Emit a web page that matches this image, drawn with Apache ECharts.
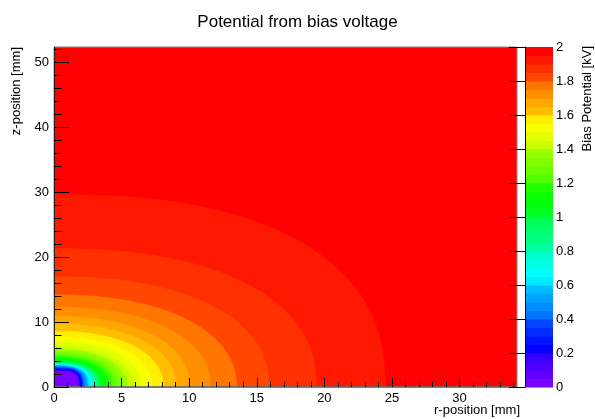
<!DOCTYPE html>
<html>
<head>
<meta charset="utf-8">
<script src="https://cdn.jsdelivr.net/npm/echarts@6/dist/echarts.min.js"></script>
<style>
html, body { margin: 0; padding: 0; background: #ffffff; }
#chart { width: 595px; height: 419px; }
</style>
</head>
<body>
<div id="chart"></div>
<script>
// Axis ranges (mm) and tick positions
const rMax = 34.25;
const zMax = 52.3;
const rTicks = [0, 5, 10, 15, 20, 25, 30];
const rMinorTicks = [0,1,2,3,4,5,6,7,8,9,10,11,12,13,14,15,16,17,18,19,20,21,22,23,24,25,26,27,28,29,30,31,32,33,34];
const zTicks = [0, 10, 20, 30, 40, 50];
const zMinorTicks = [0,2,4,6,8,10,12,14,16,18,20,22,24,26,28,30,32,34,36,38,40,42,44,46,48,50,52];
const biasTicks = [0, 0.2, 0.4, 0.6, 0.8, 1, 1.2, 1.4, 1.6, 1.8, 2];
const biasMin = 0;
const biasMax = 2;

// Equipotential boundaries (kV): extent along r at z = 0 and along z at r = 0 (mm),
// plus how square the boundary is (superellipse exponent)
const contourLevel = [1.95, 1.90, 1.85, 1.80, 1.75, 1.70, 1.65, 1.60, 1.55, 1.50,
                      1.45, 1.40, 1.35, 1.30, 1.25, 1.20, 1.15, 1.10, 1.05, 1.00,
                      0.95, 0.90, 0.85, 0.80, 0.75, 0.70, 0.65, 0.60, 0.55, 0.50,
                      0.45, 0.40, 0.35, 0.30, 0.25, 0.20, 0.15, 0.10, 0.05];
const contourR = [24.5, 19.4, 15.9, 13.5, 11.6, 10.05, 9.05, 8.1, 7.25, 6.45,
                  5.9, 5.45, 5.05, 4.75, 4.5, 4.25, 4.0, 3.78, 3.58, 3.4,
                  3.27, 3.15, 3.05, 2.96, 2.88, 2.76, 2.64, 2.52, 2.42, 2.33,
                  2.24, 2.15, 2.08, 2.02, 1.96, 1.9, 1.86, 1.82, 1.78];
const contourZ = [29.6, 21.3, 17.0, 14.2, 12.3, 10.9, 9.7, 8.6, 7.7, 6.9,
                  6.3, 5.85, 5.5, 5.2, 4.95, 4.7, 4.45, 4.25, 4.07, 3.92,
                  3.8, 3.7, 3.62, 3.55, 3.48, 3.42, 3.36, 3.3, 3.24, 3.17,
                  3.1, 3.02, 2.9, 2.78, 2.65, 2.55, 2.5, 2.45, 2.4];
const contourShape = [2.4, 2.3, 2.25, 2.2, 2.2, 2.2, 2.2, 2.2, 2.2, 2.2,
                      2.2, 2.2, 2.2, 2.2, 2.2, 2.25, 2.3, 2.35, 2.4, 2.45,
                      2.5, 2.55, 2.6, 2.65, 2.7, 2.75, 2.8, 2.85, 2.9, 3.0,
                      3.1, 3.2, 3.3, 3.4, 3.6, 3.8, 4.0, 4.2, 4.5];

const FONT = '"Liberation Sans", Arial, Helvetica, sans-serif';
const nBands = Math.round((biasMax - biasMin) / 0.05);

// 50-colour violet-to-red spectrum (HLS, lightness 0.5, saturation 1)
function spectrumColor(k) {
  const h = 280 - (k + 1) * (280 / 50);
  const hp = h / 60;
  const x = 1 - Math.abs((hp % 2) - 1);
  let r = 0, g = 0, b = 0;
  if (hp < 1) { r = 1; g = x; }
  else if (hp < 2) { r = x; g = 1; }
  else if (hp < 3) { g = 1; b = x; }
  else if (hp < 4) { g = x; b = 1; }
  else if (hp < 5) { r = x; b = 1; }
  else { r = 1; b = x; }
  const c = v => Math.round(v * 255);
  return 'rgb(' + c(r) + ',' + c(g) + ',' + c(b) + ')';
}
function bandColor(i) {
  return spectrumColor(Math.floor((i + 0.99) * 50 / nBands));
}
function bandOfUpper(level) {
  return Math.round((level - biasMin) / 0.05) - 1;
}

const contourData = contourLevel.map((v, i) => [v, contourR[i], contourZ[i], contourShape[i]]);
const bandEdges = [biasMin].concat(contourLevel.slice().reverse(), [biasMax]);
const colorbarData = bandEdges.slice(0, -1).map((v, i) => [v, bandEdges[i + 1]]);

const chart = echarts.init(document.getElementById('chart'), null, { renderer: 'canvas' });

const tickLabelStyle = { color: '#000', fontSize: 13, fontFamily: FONT };

chart.setOption({
  animation: false,
  backgroundColor: '#ffffff',
  title: {
    text: 'Potential from bias voltage',
    left: 'center',
    top: 9,
    textStyle: { color: '#000', fontSize: 17, fontWeight: 'normal', fontFamily: FONT }
  },
  grid: [
    { left: 54, top: 47, width: 463, height: 340, show: true, borderColor: '#8a8a8a', borderWidth: 1, backgroundColor: 'transparent', z: 3 },
    { left: 525, top: 47, width: 28, height: 340, show: false }
  ],
  xAxis: [
    {
      gridIndex: 0, type: 'value', position: 'bottom', min: 0, max: rMax, interval: 5,
      axisLine: { show: true, lineStyle: { color: '#666', width: 1.5 } },
      axisTick: { show: true, inside: true, length: 9, customValues: rTicks, lineStyle: { color: '#000' } },
      axisLabel: { show: true, margin: 5, customValues: rTicks, ...tickLabelStyle },
      splitLine: { show: false }, z: 5
    },
    {
      gridIndex: 0, type: 'value', position: 'bottom', min: 0, max: rMax, interval: 1,
      axisLine: { show: false },
      axisTick: { show: true, inside: true, length: 5, customValues: rMinorTicks, lineStyle: { color: '#000' } },
      axisLabel: { show: false },
      splitLine: { show: false }, z: 5
    },
    {
      gridIndex: 1, type: 'value', min: 0, max: 1, show: false
    }
  ],
  yAxis: [
    {
      gridIndex: 0, type: 'value', position: 'left', min: 0, max: zMax, interval: 10, offset: 2,
      axisLine: { show: true, lineStyle: { color: '#222', width: 1 } },
      axisTick: { show: true, inside: true, length: 15, customValues: zTicks, lineStyle: { color: '#000' } },
      axisLabel: { show: true, margin: 3, customValues: zTicks, ...tickLabelStyle },
      splitLine: { show: false }, z: 5
    },
    {
      gridIndex: 0, type: 'value', position: 'left', min: 0, max: zMax, interval: 2, offset: 2,
      axisLine: { show: false },
      axisTick: { show: true, inside: true, length: 7.5, customValues: zMinorTicks, lineStyle: { color: '#000' } },
      axisLabel: { show: false },
      splitLine: { show: false }, z: 5
    },
    {
      gridIndex: 1, type: 'value', min: biasMin, max: biasMax, interval: 0.2, position: 'right',
      axisLine: { show: true, lineStyle: { color: '#000', width: 1 } },
      axisTick: { show: true, inside: true, length: 16, customValues: biasTicks, lineStyle: { color: '#000' } },
      axisLabel: { show: true, margin: 3, customValues: biasTicks, ...tickLabelStyle },
      splitLine: { show: false }, z: 5
    }
  ],
  series: [
    {
      // highest band fills the whole frame
      type: 'custom', xAxisIndex: 0, yAxisIndex: 0, clip: true, silent: true, z: 1,
      data: [[0, 0, rMax, zMax]],
      renderItem: function (params, api) {
        const p0 = api.coord([api.value(0), api.value(1)]);
        const p1 = api.coord([api.value(2), api.value(3)]);
        return {
          type: 'rect',
          shape: { x: p0[0], y: p1[1], width: p1[0] - p0[0], height: p0[1] - p1[1] },
          style: { fill: bandColor(nBands - 1) }
        };
      }
    },
    {
      // equipotential bands, outermost first
      type: 'custom', xAxisIndex: 0, yAxisIndex: 0, clip: true, silent: true, z: 2,
      data: contourData,
      renderItem: function (params, api) {
        const level = api.value(0), a = api.value(1), b = api.value(2), p = api.value(3);
        const pts = [api.coord([0, 0])];
        const N = 120;
        for (let k = 0; k <= N; k++) {
          const t = (k / N) * Math.PI / 2;
          const c = Math.max(0, Math.cos(t)), s = Math.max(0, Math.sin(t));
          pts.push(api.coord([a * Math.pow(c, 2 / p), b * Math.pow(s, 2 / p)]));
        }
        const col = bandColor(bandOfUpper(level));
        return {
          type: 'polygon',
          shape: { points: pts },
          style: { fill: col, stroke: col, lineWidth: 0.5 }
        };
      }
    },
    {
      // colour scale
      type: 'custom', xAxisIndex: 2, yAxisIndex: 2, clip: false, silent: true, z: 2,
      data: colorbarData,
      renderItem: function (params, api) {
        const lo = api.value(0), hi = api.value(1);
        const p0 = api.coord([0, lo]);
        const p1 = api.coord([1, hi]);
        return {
          type: 'rect',
          shape: { x: p0[0], y: p1[1], width: p1[0] - p0[0], height: p0[1] - p1[1] + 0.5 },
          style: { fill: bandColor(bandOfUpper(hi)) }
        };
      }
    }
  ],
  graphic: [
    {
      type: 'text', x: 520, y: 410,
      style: { text: 'r-position [mm]', fill: '#000', font: '13px ' + FONT, align: 'right', verticalAlign: 'middle' }
    },
    {
      type: 'text', x: 16, y: 47, rotation: Math.PI / 2,
      style: { text: 'z-position [mm]', fill: '#000', font: '13px ' + FONT, align: 'right', verticalAlign: 'middle' }
    },
    {
      type: 'text', x: 587, y: 46, rotation: Math.PI / 2,
      style: { text: 'Bias Potential [kV]', fill: '#000', font: '13px ' + FONT, align: 'right', verticalAlign: 'middle' }
    }
  ]
});
</script>
</body>
</html>
